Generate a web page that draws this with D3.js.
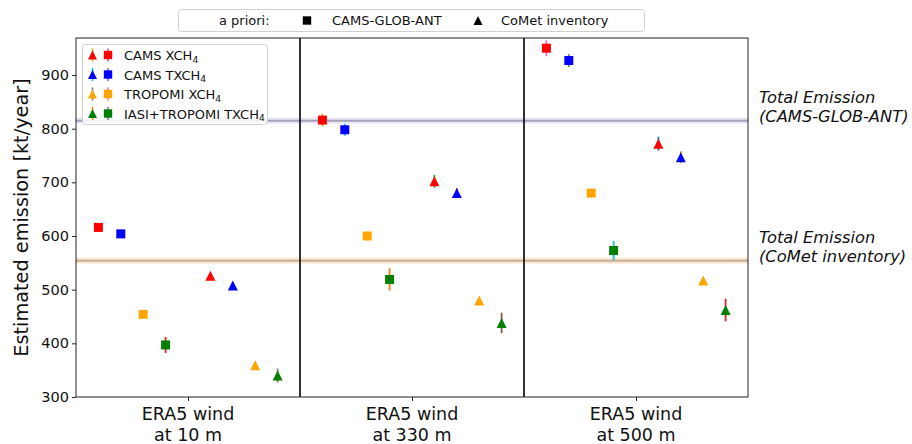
<!DOCTYPE html>
<html>
<head>
<meta charset="utf-8">
<script src="https://cdn.jsdelivr.net/npm/d3@7"></script>
<style>
  body { margin: 0; background: #fff; }
  svg { display: block; font-family: "DejaVu Sans", sans-serif; }
</style>
</head>
<body>
<svg id="chart" width="912" height="444"></svg>
<script>
// ---- data -------------------------------------------------------------
const categories = [["ERA5 wind", "at 10 m"], ["ERA5 wind", "at 330 m"], ["ERA5 wind", "at 500 m"]];
const seriesNames = ["CAMS XCH", "CAMS TXCH", "TROPOMI XCH", "IASI+TROPOMI TXCH"]; // each gets a subscript 4
const seriesColors = ["#ff0000", "#0000ff", "#ffa500", "#008000"];
const yTicks = [300, 400, 500, 600, 700, 800, 900];

// estimates with the CAMS-GLOB-ANT prior (squares): rows = series, columns = wind level
const globAntValues = [
  [616, 816, 950],
  [604, 798, 927],
  [454, 600, 680],
  [397, 519, 573]
];
const globAntErrors = [
  [8, 12, 15],
  [6, 11, 12],
  [3, 3, 3],
  [15, 21, 18]
];

// estimates with the CoMet inventory prior (triangles)
const cometValues = [
  [526, 702, 772],
  [508, 680, 747],
  [359, 480, 517],
  [340, 438, 462]
];
const cometErrors = [
  [5, 12, 13],
  [5, 9, 11],
  [3, 3, 3],
  [13, 19, 21]
];

// total emission of each inventory, with its uncertainty band
const totalGlobAnt = 815;
const totalComet = 554;
const totalBand = 5.5;

// ---- styles -----------------------------------------------------------
const sqErrColors = [
  ["#d62728", "#bcbd22", "#e377c2"],
  ["#9467bd", "#17becf", "#7f7f7f"],
  ["#8c564b", "#7f7f7f", "#bcbd22"],
  ["#d62728", "#ff7f0e", "#17becf"]
];
const triErrColors = [
  ["#8c564b", "#2ca02c", "#1f77b4"],
  ["#e377c2", "#d62728", "#ff7f0e"],
  ["#bcbd22", "#17becf", "#9467bd"],
  ["#7f7f7f", "#8c564b", "#d62728"]
];
const legendErr = [
  ["#bcbd22", "#9467bd"],
  ["#17becf", "#9467bd"],
  ["#7f7f7f", "#e377c2"],
  ["#ff7f0e", "#9467bd"]
];

// ---- layout -----------------------------------------------------------
const svg = d3.select("#chart");
const plot = { left: 76, right: 748, top: 38, bottom: 397 };

const x = d3.scaleLinear().domain([-0.5, categories.length - 0.5]).range([plot.left, plot.right]);
const y = d3.scaleLinear().domain([300, 969]).range([plot.bottom, plot.top]);
const sqOffset = [-0.4, -0.3, -0.2, -0.1];
const triOffset = [0.1, 0.2, 0.3, 0.4];

const squarePath = s => `M${-s},${-s}H${s}V${s}H${-s}Z`;
const trianglePath = s => `M0,${-s}L${s},${s}L${-s},${s}Z`;

// uncertainty bands and total-emission lines
function totalLine(value, bandFill, lineColor) {
  svg.append("rect")
    .attr("x", plot.left).attr("width", plot.right - plot.left)
    .attr("y", y(value + totalBand)).attr("height", y(value - totalBand) - y(value + totalBand))
    .attr("fill", bandFill);
  svg.append("line")
    .attr("x1", plot.left).attr("x2", plot.right)
    .attr("y1", y(value)).attr("y2", y(value))
    .attr("stroke", lineColor).attr("stroke-width", 2);
}
totalLine(totalGlobAnt, "#e6e6f4", "#a3a3bb");
totalLine(totalComet, "#fde6cf", "#c3ae9b");

// category separators
svg.append("g").selectAll("line")
  .data(d3.range(1, categories.length))
  .join("line")
  .attr("x1", d => x(d - 0.5)).attr("x2", d => x(d - 0.5))
  .attr("y1", plot.top).attr("y2", plot.bottom)
  .attr("stroke", "#000").attr("stroke-width", 1.6);

// markers with error bars
function drawSeries(values, errors, offsets, errColors, pathFn, size) {
  values.forEach((row, s) => {
    const g = svg.append("g");
    row.forEach((v, c) => {
      const cx = x(c + offsets[s]);
      g.append("line")
        .attr("x1", cx).attr("x2", cx)
        .attr("y1", y(v + errors[s][c])).attr("y2", y(v - errors[s][c]))
        .attr("stroke", errColors[s][c]).attr("stroke-width", 1.8);
      g.append("path")
        .attr("d", pathFn(size))
        .attr("transform", `translate(${cx},${y(v)})`)
        .attr("fill", seriesColors[s]);
    });
  });
}
drawSeries(globAntValues, globAntErrors, sqOffset, sqErrColors, squarePath, 4.5);
drawSeries(cometValues, cometErrors, triOffset, triErrColors, trianglePath, 5);

// frame
svg.append("rect")
  .attr("x", plot.left).attr("y", plot.top)
  .attr("width", plot.right - plot.left).attr("height", plot.bottom - plot.top)
  .attr("fill", "none").attr("stroke", "#222").attr("stroke-width", 1);

// y axis
const yAxis = svg.append("g")
  .attr("transform", `translate(${plot.left},0)`)
  .call(d3.axisLeft(y).tickValues(yTicks).tickSize(4).tickPadding(3));
yAxis.select(".domain").remove();
yAxis.selectAll("line").attr("stroke", "#222");
yAxis.selectAll("text").attr("font-size", 14.5).attr("font-family", "DejaVu Sans").attr("fill", "#111");

// x axis (categories)
const xAxis = svg.append("g")
  .attr("transform", `translate(0,${plot.bottom})`)
  .call(d3.axisBottom(x).tickValues(d3.range(categories.length)).tickSize(4).tickFormat(""));
xAxis.select(".domain").remove();
xAxis.selectAll("line").attr("stroke", "#222");
svg.append("g").selectAll("text")
  .data(categories)
  .join("text")
  .attr("x", (d, i) => x(i))
  .attr("y", 420)
  .attr("text-anchor", "middle")
  .attr("font-size", 17.5)
  .attr("fill", "#111")
  .each(function (d) {
    d3.select(this).selectAll("tspan").data(d).join("tspan")
      .attr("x", d3.select(this).attr("x"))
      .attr("dy", (t, k) => k === 0 ? 0 : 21)
      .text(t => t);
  });

// y label
svg.append("text")
  .attr("transform", `translate(28,${(plot.top + plot.bottom) / 2}) rotate(-90)`)
  .attr("text-anchor", "middle")
  .attr("font-size", 19.3)
  .attr("fill", "#111")
  .text("Estimated emission [kt/year]");

// total-emission annotations
const notes = [
  { value: totalGlobAnt, lines: ["Total Emission", "(CAMS-GLOB-ANT)"] },
  { value: totalComet, lines: ["Total Emission", "(CoMet inventory)"] }
];
notes.forEach(n => {
  svg.append("text")
    .attr("x", 759).attr("y", y(n.value) - 18)
    .attr("font-size", 16.3).attr("font-style", "italic").attr("fill", "#111")
    .selectAll("tspan").data(n.lines).join("tspan")
    .attr("x", 759).attr("dy", (t, k) => k === 0 ? 0 : 19)
    .text(t => t);
});

// series legend
const seriesLegend = svg.append("g");
seriesLegend.append("rect")
  .attr("x", 82.5).attr("y", 44.5).attr("width", 185).attr("height", 80)
  .attr("rx", 3).attr("fill", "#fff").attr("fill-opacity", 0.85)
  .attr("stroke", "#d0d0d0");
seriesNames.forEach((name, s) => {
  const cy = 55 + s * 19.5;
  seriesLegend.append("line").attr("x1", 92.5).attr("x2", 92.5).attr("y1", cy - 6.5).attr("y2", cy + 6.5)
    .attr("stroke", legendErr[s][0]).attr("stroke-width", 1.6);
  seriesLegend.append("path").attr("d", trianglePath(4.5)).attr("transform", `translate(92.5,${cy})`)
    .attr("fill", seriesColors[s]);
  seriesLegend.append("line").attr("x1", 108).attr("x2", 108).attr("y1", cy - 6.5).attr("y2", cy + 6.5)
    .attr("stroke", legendErr[s][1]).attr("stroke-width", 1.6);
  seriesLegend.append("path").attr("d", squarePath(4.2)).attr("transform", `translate(108,${cy})`)
    .attr("fill", seriesColors[s]);
  const t = seriesLegend.append("text").attr("x", 124).attr("y", cy + 5).attr("font-size", 13).attr("fill", "#111");
  t.append("tspan").text(name);
  t.append("tspan").attr("font-size", 9.2).attr("dy", 2.5).text("4");
});

// prior legend
const priorLegend = svg.append("g");
priorLegend.append("rect")
  .attr("x", 178.5).attr("y", 9.5).attr("width", 466).attr("height", 22)
  .attr("rx", 3).attr("fill", "#fff").attr("stroke", "#d0d0d0");
priorLegend.append("text").attr("x", 219).attr("y", 25).attr("font-size", 13).attr("fill", "#111").text("a priori:");
priorLegend.append("path").attr("d", squarePath(4.2)).attr("transform", "translate(307,20.5)").attr("fill", "#000");
priorLegend.append("text").attr("x", 332).attr("y", 25).attr("font-size", 13).attr("fill", "#111").text("CAMS-GLOB-ANT");
priorLegend.append("path").attr("d", trianglePath(4.5)).attr("transform", "translate(478,20.5)").attr("fill", "#000");
priorLegend.append("text").attr("x", 501).attr("y", 25).attr("font-size", 13).attr("fill", "#111").text("CoMet inventory");
</script>
</body>
</html>
